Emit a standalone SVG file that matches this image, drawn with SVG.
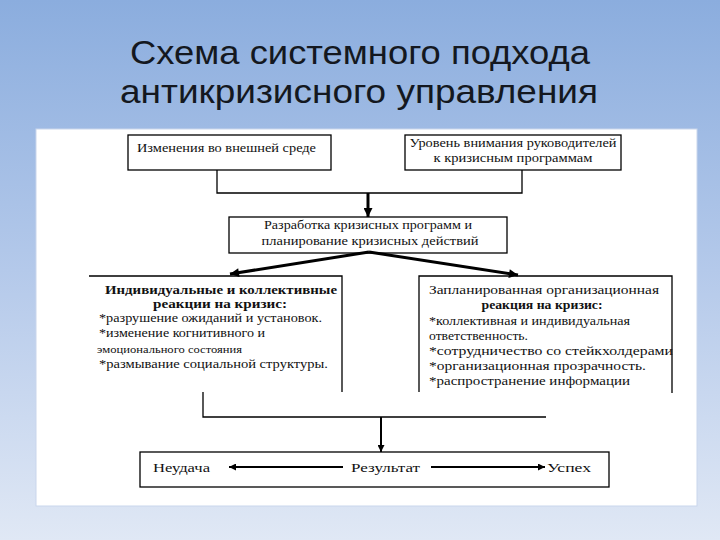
<svg xmlns="http://www.w3.org/2000/svg" width="720" height="540" viewBox="0 0 720 540">
<style>
.t{font-family:"Liberation Serif","Times New Roman",serif;font-size:13.5px;fill:#111}
.s{font-size:12.5px}
.b{font-weight:bold}
.m{text-anchor:middle}
.box{fill:#fff;stroke:#000;stroke-width:1.3}
.ln{fill:none;stroke:#000;stroke-width:1.3}
.thick{fill:none;stroke:#000;stroke-width:3}
.thin{fill:none;stroke:#000;stroke-width:2}
.title{font-family:"Liberation Sans",Arial,sans-serif;font-size:34px;fill:#141820;text-anchor:middle}
</style>
<defs>
<linearGradient id="bg" x1="0" y1="0" x2="0" y2="1">
<stop offset="0" stop-color="#8badde"/>
<stop offset="0.5" stop-color="#b4c9ea"/>
<stop offset="1" stop-color="#e0e8f5"/>
</linearGradient>
<marker id="ah" viewBox="0 0 10 10" refX="10" refY="5" markerWidth="11" markerHeight="9" markerUnits="userSpaceOnUse" orient="auto">
<path d="M0,0 L10,5 L0,10 z" fill="#000"/>
</marker>
<marker id="as" viewBox="0 0 10 10" refX="10" refY="5" markerWidth="8" markerHeight="7" markerUnits="userSpaceOnUse" orient="auto">
<path d="M0,0 L10,5 L0,10 z" fill="#000"/>
</marker>
</defs>
<rect x="0" y="0" width="720" height="540" fill="url(#bg)"/>
<g id="title">
<text class="title" x="360" y="64" textLength="460" lengthAdjust="spacingAndGlyphs">Схема системного подхода</text>
<text class="title" x="359" y="103" textLength="478" lengthAdjust="spacingAndGlyphs">антикризисного управления</text>
</g>
<rect id="panel" x="36" y="129" width="661" height="377" fill="#fff" stroke="#c9d6ec" stroke-width="1"/>
<g id="n1">
<rect class="box" x="128" y="135" width="203" height="35"/>
<text class="t" x="137" y="152" textLength="179" lengthAdjust="spacingAndGlyphs">Изменения во внешней среде</text>
</g>
<g id="n2">
<rect class="box" x="405" y="135" width="216" height="35"/>
<text class="t m" x="513" y="147" textLength="207" lengthAdjust="spacingAndGlyphs">Уровень внимания руководителей</text>
<text class="t m" x="513" y="162" textLength="159" lengthAdjust="spacingAndGlyphs">к кризисным программам</text>
</g>
<g id="n3">
<rect class="box" x="229" y="217" width="278" height="36"/>
<text class="t m" x="368" y="229" textLength="208" lengthAdjust="spacingAndGlyphs">Разработка кризисных программ и</text>
<text class="t m" x="370" y="245" textLength="217" lengthAdjust="spacingAndGlyphs">планирование кризисных действий</text>
</g>
<g id="n4">
<polyline class="ln" points="89,276 342,276 342,392"/>
<text class="t s b m" x="221" y="294" textLength="232" lengthAdjust="spacingAndGlyphs">Индивидуальные и коллективные</text>
<text class="t s b m" x="220" y="308" textLength="134" lengthAdjust="spacingAndGlyphs">реакции на кризис:</text>
<text class="t s" x="99" y="322" textLength="223" lengthAdjust="spacingAndGlyphs">*разрушение ожиданий и установок.</text>
<text class="t s" x="99" y="337" textLength="166" lengthAdjust="spacingAndGlyphs">*изменение когнитивного и</text>
<text class="t" x="97" y="353" style="font-size:11px" textLength="145" lengthAdjust="spacingAndGlyphs">эмоционального состояния</text>
<text class="t s" x="99" y="368" textLength="229" lengthAdjust="spacingAndGlyphs">*размывание социальной структуры.</text>
</g>
<g id="n5">
<polyline class="ln" points="419,392 419,276 672,276 672,393"/>
<text class="t s m" x="544" y="294" textLength="230" lengthAdjust="spacingAndGlyphs">Запланированная организационная</text>
<text class="t s b m" x="542" y="309" textLength="121" lengthAdjust="spacingAndGlyphs">реакция на кризис:</text>
<text class="t s" x="429" y="325" textLength="201" lengthAdjust="spacingAndGlyphs">*коллективная и индивидуальная</text>
<text class="t s" x="429" y="340" textLength="99" lengthAdjust="spacingAndGlyphs">ответственность.</text>
<text class="t s" x="429" y="355" textLength="244" lengthAdjust="spacingAndGlyphs">*сотрудничество со стейкхолдерами</text>
<text class="t s" x="429" y="370" textLength="217" lengthAdjust="spacingAndGlyphs">*организационная прозрачность.</text>
<text class="t s" x="429" y="385" textLength="201" lengthAdjust="spacingAndGlyphs">*распространение информации</text>
</g>
<g id="n6">
<rect class="box" x="140" y="452" width="469" height="35"/>
<text class="t" x="153" y="472" textLength="57" lengthAdjust="spacingAndGlyphs">Неудача</text>
<text class="t" x="351" y="472" textLength="69" lengthAdjust="spacingAndGlyphs">Результат</text>
<text class="t" x="547" y="472" textLength="44" lengthAdjust="spacingAndGlyphs">Успех</text>
</g>
<g id="connectors">
<polyline class="ln" points="217,170 217,193 522,193 522,170"/>
<line class="thick" x1="368" y1="193" x2="368" y2="217" marker-end="url(#ah)"/>
<line class="thick" x1="369" y1="252" x2="230" y2="274" marker-end="url(#ah)"/>
<line class="thick" x1="369" y1="252" x2="518" y2="275" marker-end="url(#ah)"/>
<polyline class="ln" points="203,392 203,417 546,417"/>
<line class="thin" x1="381" y1="417" x2="381" y2="452" marker-end="url(#as)"/>
<line class="thin" x1="343" y1="467" x2="229" y2="467" marker-end="url(#as)"/>
<line class="thin" x1="431" y1="467" x2="545" y2="467" marker-end="url(#as)"/>
</g>
</svg>
